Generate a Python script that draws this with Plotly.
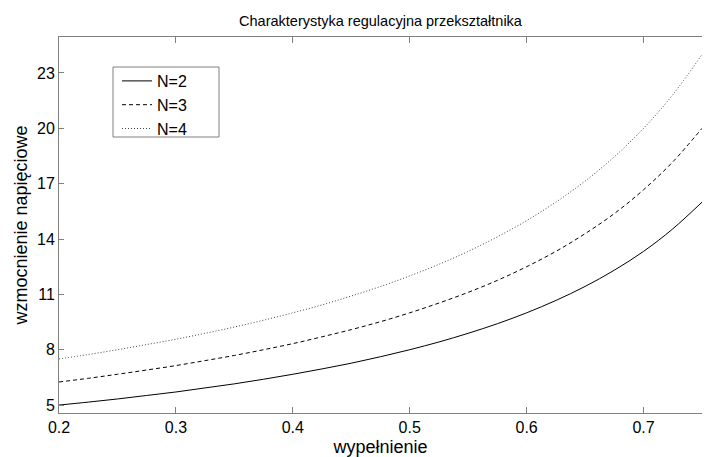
import plotly.graph_objects as go

duty = [0.200, 0.225, 0.250, 0.275, 0.300, 0.325, 0.350, 0.375, 0.400, 0.425, 0.450, 0.475,
        0.500, 0.525, 0.550, 0.575, 0.600, 0.625, 0.650, 0.675, 0.700, 0.725, 0.750]
gain_n2 = [5.00, 5.16, 5.33, 5.52, 5.71, 5.93, 6.15, 6.40, 6.67, 6.96, 7.27, 7.62,
           8.00, 8.42, 8.89, 9.41, 10.00, 10.67, 11.43, 12.31, 13.33, 14.55, 16.00]
gain_n3 = [6.25, 6.45, 6.67, 6.90, 7.14, 7.41, 7.69, 8.00, 8.33, 8.70, 9.09, 9.52,
           10.00, 10.53, 11.11, 11.76, 12.50, 13.33, 14.29, 15.38, 16.67, 18.18, 20.00]
gain_n4 = [7.50, 7.74, 8.00, 8.28, 8.57, 8.89, 9.23, 9.60, 10.00, 10.43, 10.91, 11.43,
           12.00, 12.63, 13.33, 14.12, 15.00, 16.00, 17.14, 18.46, 20.00, 21.82, 24.00]
series_names = ["N=2", "N=3", "N=4"]
x_ticks = [0.2, 0.3, 0.4, 0.5, 0.6, 0.7]
y_ticks = [5, 8, 11, 14, 17, 20, 23]

FONT = "Liberation Sans, Arial, sans-serif"
AXC = "#808080"
W, H = 704, 457
ML, MR, MT, MB = 59, 2, 37, 44
PW, PH = W - ML - MR, H - MT - MB


def px_to_paper(px, py):
    return (px - ML) / PW, 1 - (py - MT) / PH


fig = go.Figure()
for name, vals, dash, col in zip(series_names, [gain_n2, gain_n3, gain_n4],
                                  ["solid", "4px,3px", "1px,2px"], ["#000000", "#000000", "#444444"]):
    fig.add_trace(go.Scatter(x=duty, y=vals, mode="lines", name=name,
                             line=dict(color=col, width=1, dash=dash, shape="spline")))

# legend frame
x0, y1 = px_to_paper(113, 67)
x1, y0 = px_to_paper(219, 137)
fig.add_shape(type="rect", xref="paper", yref="paper", x0=x0, x1=x1, y0=y0, y1=y1,
              line=dict(color=AXC, width=1), fillcolor="white", layer="below")

lx, ly = px_to_paper(117, 64)
fig.update_layout(
    width=W, height=H,
    margin=dict(l=ML, r=MR, t=MT, b=MB),
    paper_bgcolor="white", plot_bgcolor="white",
    font=dict(family=FONT, color="#000000", size=16),
    title=dict(text="Charakterystyka regulacyjna przekształtnika", x=0.5, xanchor="center",
               xref="paper", y=1 - 21 / H, yanchor="middle", font=dict(size=14.5)),
    legend=dict(x=lx, y=ly, xanchor="left", yanchor="top",
                borderwidth=0, bgcolor="rgba(0,0,0,0)",
                font=dict(size=16), tracegroupgap=0),
    showlegend=True,
)
fig.update_xaxes(range=[0.2, 0.75], tickvals=x_ticks, ticktext=[str(v) for v in x_ticks],
                 ticks="inside", ticklen=6, tickcolor=AXC, showline=True, linecolor=AXC,
                 linewidth=1, mirror="ticks", showgrid=False, zeroline=False,
                 tickfont=dict(size=16),
                 title=dict(text="wypełnienie", font=dict(size=18), standoff=6))
fig.update_yaxes(range=[4.57, 24.95], tickvals=y_ticks, ticks="inside", ticklen=5,
                 tickcolor=AXC, showline=True, linecolor=AXC, linewidth=1, mirror=False,
                 showgrid=False, zeroline=False, tickfont=dict(size=16),
                 title=dict(text="wzmocnienie napięciowe", font=dict(size=18), standoff=4))

fig.write_html("out.html", config={"displayModeBar": False},
               post_script="document.body.style.margin='0';document.body.style.padding='0';")
